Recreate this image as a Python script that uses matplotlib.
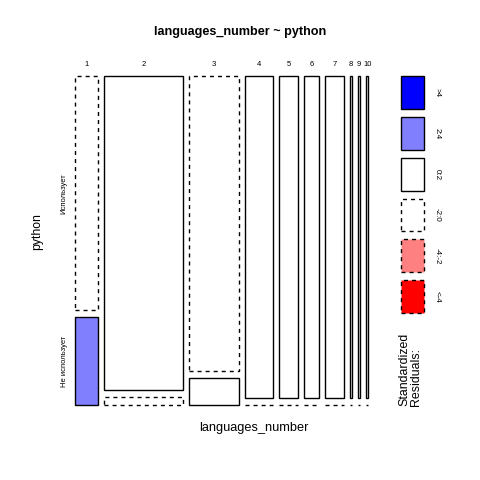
import numpy as np
import matplotlib
matplotlib.use("Agg")
import matplotlib.pyplot as plt
from matplotlib.patches import Rectangle

plt.rcParams['font.family'] = ['Liberation Sans', 'DejaVu Sans']

# languages_number x python
columnas = ['1', '2', '3', '4', '5', '6', '7', '8', '9', '10']
filas = ['Использует', 'Не использует']
usa = [8, 36, 22, 13, 9, 7, 9, 1, 1, 1]
no_usa = [3, 1, 2, 0, 0, 0, 0, 0, 0, 0]

leyenda_etiq = ['>4', '2:4', '0:2', '-2:0', '-4:-2', '<-4']
leyenda_col = ['#0000FF', '#8080FF', 'white', 'white', '#FF8080', '#FF0000']
leyenda_lty = ['-', '-', '-', '--', '--', '--']

W = 480.0
dash = (0, (2.9, 2.9))


def estilo(r):
    # colores y tipo de linea segun el residuo estandarizado
    if r > 4:
        return '#0000FF', '-'
    if r > 2:
        return '#8080FF', '-'
    if r > 0:
        return 'white', '-'
    if r > -2:
        return 'white', dash
    if r > -4:
        return '#FF8080', dash
    return '#FF0000', dash


tabla = np.array([usa, no_usa], dtype=float)
N = tabla.sum()
esperado = np.outer(tabla.sum(axis=1), tabla.sum(axis=0)) / N
resid = (tabla - esperado) / np.sqrt(esperado)

fig = plt.figure(figsize=(4.8, 4.8), dpi=100)

# zona del mosaico en pixeles
x0, x1, y0, y1 = 75.0, 368.3, 76.0, 405.3
ax = fig.add_axes([x0 / W, 1 - y1 / W, (x1 - x0) / W, (y1 - y0) / W])
ax.set_xlim(0, 1)
ax.set_ylim(0, 1)
ax.axis('off')

gx = 6.0 / (x1 - x0)
gy = 7.0 / (y1 - y0)
ncol = len(columnas)
ancho_total = 1 - gx * (ncol - 1)
tot_col = tabla.sum(axis=0)

x = 0.0
for j in range(ncol):
    w = tot_col[j] / N * ancho_total
    h_no = tabla[1, j] / tot_col[j] * (1 - gy)
    h_si = tabla[0, j] / tot_col[j] * (1 - gy)
    # fila de abajo: Не использует
    col, ls = estilo(resid[1, j])
    if tabla[1, j] > 0:
        ax.add_patch(Rectangle((x, 0), w, h_no, facecolor=col, edgecolor='black',
                               linestyle=ls, linewidth=1.0, clip_on=False))
    else:
        ax.plot([x, x + w], [0, 0], color='black', linestyle=ls, linewidth=1.0,
                clip_on=False)
    # fila de arriba: Использует
    col, ls = estilo(resid[0, j])
    ax.add_patch(Rectangle((x, h_no + gy), w, h_si, facecolor=col, edgecolor='black',
                           linestyle=ls, linewidth=1.0, clip_on=False))
    ax.text(x + w / 2, 1 + 11.3 / (y1 - y0), columnas[j], ha='center', va='center',
            fontsize=5.5, clip_on=False)
    x += w + gx

# etiquetas de filas
h0 = no_usa[0] / tot_col[0] * (1 - gy)
ax.text(-11.0 / (x1 - x0), h0 + gy + (1 - h0 - gy) / 2, filas[0], rotation=90,
        ha='center', va='center', fontsize=5.5, clip_on=False)
ax.text(-11.0 / (x1 - x0), h0 / 2, filas[1], rotation=90,
        ha='center', va='center', fontsize=5.5, clip_on=False)

# leyenda
lx0, lx1, ly0, ly1 = 400.7, 423.7, 76.0, 313.0
lax = fig.add_axes([lx0 / W, 1 - ly1 / W, (lx1 - lx0) / W, (ly1 - ly0) / W])
lax.set_xlim(0, 1)
lax.set_ylim(0, 1)
lax.axis('off')
nb = len(leyenda_etiq)
gl = 8.0 / (ly1 - ly0)
hb = (1 - gl * (nb - 1)) / nb
for i in range(nb):
    yb = 1 - (i + 1) * hb - i * gl
    ls = leyenda_lty[i] if leyenda_lty[i] == '-' else dash
    lax.add_patch(Rectangle((0, yb), 1, hb, facecolor=leyenda_col[i], edgecolor='black',
                            linestyle=ls, linewidth=1.0, clip_on=False))
    lax.text(1 + 13.5 / (lx1 - lx0), yb + hb / 2, leyenda_etiq[i], rotation=270,
             ha='center', va='center', fontsize=5.8, clip_on=False)

fig.text(410.5 / W, 1 - 405.5 / W, 'Standardized\nResiduals:', rotation=90,
         ha='center', va='bottom', multialignment='left', fontsize=8.9,
         linespacing=1.0)

fig.text(240 / W, 1 - 31.7 / W, 'languages_number ~ python', ha='center', va='center',
         fontsize=9.1, fontweight='bold')
fig.text(253.5 / W, 1 - 428 / W, 'languages_number', ha='center', va='center', fontsize=9.2)
fig.text(37.5 / W, 1 - 232 / W, 'python', ha='center', va='center', rotation=90, fontsize=8.8)

fig.savefig('out.png', dpi=100)
